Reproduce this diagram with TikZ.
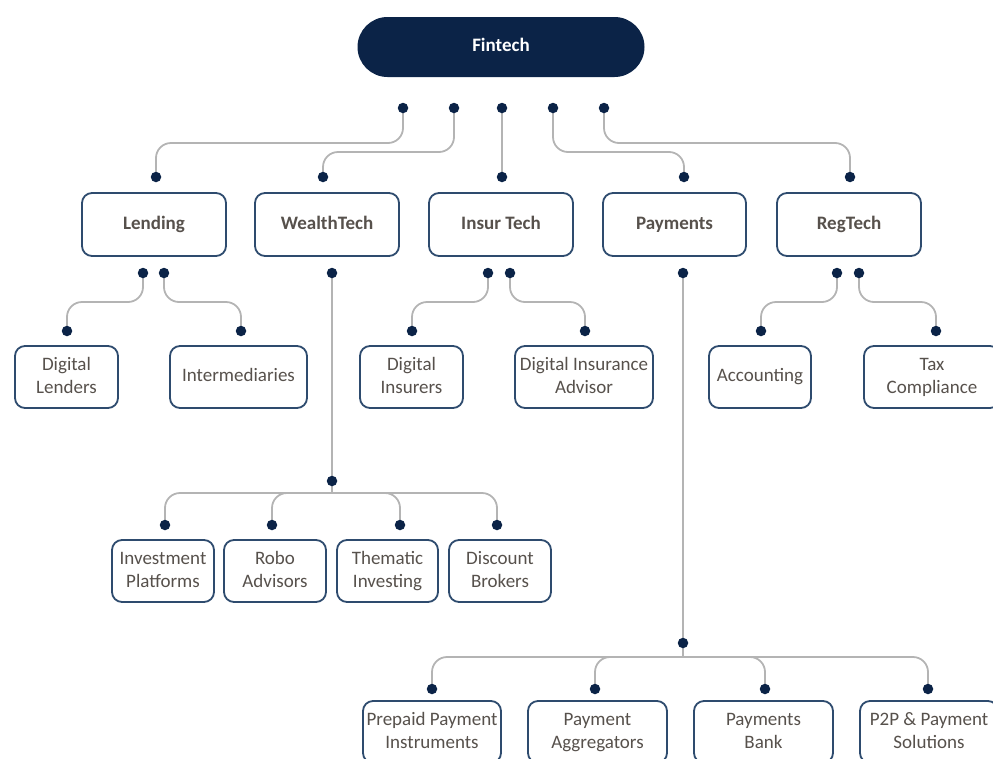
\documentclass[tikz,border=0pt]{standalone}
\usepackage{fontspec}
\setmainfont{Carlito}
\definecolor{navy}{HTML}{0B2347}
\definecolor{boxline}{HTML}{2E4B6E}
\definecolor{txt}{HTML}{57514C}
\definecolor{conn}{HTML}{B4B4B4}
\tikzset{
  hub/.style={draw=none, fill=navy, rounded corners=30pt, minimum width=287pt, minimum height=60pt, inner sep=0pt, text=white, font=\fontsize{19}{23}\selectfont\bfseries},
  catbox/.style={draw=boxline, line width=1.8pt, rounded corners=10pt, fill=white, minimum height=63pt, inner sep=0pt, text=txt, align=center, font=\fontsize{19}{23}\selectfont\bfseries},
  leafbox/.style={draw=boxline, line width=1.8pt, rounded corners=10pt, fill=white, minimum height=62pt, inner sep=0pt, text=txt, align=center, font=\fontsize{19}{23}\selectfont},
  dotnode/.style={circle, fill=navy, draw=none, minimum size=10.5pt, inner sep=0pt},
  link/.style={draw=conn, line width=1.8pt, rounded corners=15pt},
  linkstraight/.style={draw=conn, line width=1.8pt},
}
\begin{document}
\begin{tikzpicture}[x=1pt,y=-1pt]
\useasboundingbox (0,0) rectangle (993,758);
% main boxes
\node[hub] (fin) at (501,47) {\strut Fintech};
\node[catbox, minimum width=144pt] (lend) at (154,224.5) {\strut Lending};
\node[catbox, minimum width=144pt] (wealth) at (327,224.5) {\strut WealthTech};
\node[catbox, minimum width=144pt] (insur) at (501,224.5) {\strut Insur Tech};
\node[catbox, minimum width=143pt] (pay) at (674.5,224.5) {\strut Payments};
\node[catbox, minimum width=144pt] (reg) at (849,224.5) {\strut RegTech};
% leaves
\node[leafbox, minimum width=103pt] (dl) at (66.5,377) {\strut Digital\\\strut Lenders};
\node[leafbox, minimum width=137pt] (im) at (238.5,377) {\strut Intermediaries};
\node[leafbox, minimum width=103pt] (di) at (411.5,377) {\strut Digital\\\strut Insurers};
\node[leafbox, minimum width=138pt] (dia) at (584,377) {\strut Digital Insurance\\\strut Advisor};
\node[leafbox, minimum width=102pt] (acc) at (760,377) {\strut Accounting};
\node[leafbox, minimum width=136pt] (tax) at (932,377) {\strut Tax\\\strut Compliance};
\node[leafbox, minimum width=102pt] (ip) at (163,571) {\strut Investment\\\strut Platforms};
\node[leafbox, minimum width=102pt] (ra) at (275,571) {\strut Robo\\\strut Advisors};
\node[leafbox, minimum width=101pt] (ti) at (387.5,571) {\strut Thematic\\\strut Investing};
\node[leafbox, minimum width=102pt] (db) at (500,571) {\strut Discount\\\strut Brokers};
\node[leafbox, minimum width=138pt] (ppi) at (432,732) {\strut Prepaid Payment\\\strut Instruments};
\node[leafbox, minimum width=139pt] (pa) at (597.5,732) {\strut Payment\\\strut Aggregators};
\node[leafbox, minimum width=139pt] (pb) at (763.5,732) {\strut Payments\\\strut Bank};
\node[leafbox, minimum width=138pt] (p2p) at (929,732) {\strut P2P \& Payment\\\strut Solutions};
% dot coordinates
\coordinate (t1) at (403,108);
\coordinate (t2) at (454,108);
\coordinate (t3) at (502,108);
\coordinate (t4) at (553,108);
\coordinate (t5) at (604,108);
\coordinate (a1) at (156,177);
\coordinate (a2) at (323,177);
\coordinate (a3) at (502,177);
\coordinate (a4) at (684,177);
\coordinate (a5) at (850,177);
\coordinate (b1) at (143,273);
\coordinate (b2) at (164,273);
\coordinate (b3) at (332,273);
\coordinate (b4) at (488,273);
\coordinate (b5) at (510,273);
\coordinate (b6) at (683,273);
\coordinate (b7) at (837,273);
\coordinate (b8) at (859,273);
\coordinate (c1) at (67,331);
\coordinate (c2) at (241,331);
\coordinate (c3) at (412,331);
\coordinate (c4) at (585,331);
\coordinate (c5) at (761,331);
\coordinate (c6) at (936,331);
\coordinate (w0) at (332,481);
\coordinate (w1) at (165,525);
\coordinate (w2) at (272,525);
\coordinate (w3) at (400,525);
\coordinate (w4) at (497,525);
\coordinate (p0) at (683,643);
\coordinate (p1) at (432,689);
\coordinate (p2) at (595,689);
\coordinate (p3) at (765,689);
\coordinate (p4) at (928,689);
% level coordinates
\coordinate (h1) at (0,143);
\coordinate (h2) at (0,152);
\coordinate (h3) at (0,302);
\coordinate (h4) at (0,493);
\coordinate (h5) at (0,657);
% connectors top
\draw[link] (t1) -- (t1 |- h1) -| (a1);
\draw[link] (t2) -- (t2 |- h2) -| (a2);
\draw[linkstraight] (t3) -- (a3);
\draw[link] (t4) -- (t4 |- h2) -| (a4);
\draw[link] (t5) -- (t5 |- h1) -| (a5);
% second level
\draw[link] (b1) -- (b1 |- h3) -| (c1);
\draw[link] (b2) -- (b2 |- h3) -| (c2);
\draw[link] (b4) -- (b4 |- h3) -| (c3);
\draw[link] (b5) -- (b5 |- h3) -| (c4);
\draw[link] (b7) -- (b7 |- h3) -| (c5);
\draw[link] (b8) -- (b8 |- h3) -| (c6);
% wealth
\draw[linkstraight] (b3) -- (w0) -- (w0 |- h4);
\draw[link] (w0 |- h4) -| (w1);
\draw[link] (w0 |- h4) -| (w2);
\draw[link] (w0 |- h4) -| (w3);
\draw[link] (w0 |- h4) -| (w4);
% payments
\draw[linkstraight] (b6) -- (p0) -- (p0 |- h5);
\draw[link] (p0 |- h5) -| (p1);
\draw[link] (p0 |- h5) -| (p2);
\draw[link] (p0 |- h5) -| (p3);
\draw[link] (p0 |- h5) -| (p4);
% dots
\foreach \d in {t1,t2,t3,t4,t5,a1,a2,a3,a4,a5,b1,b2,b3,b4,b5,b6,b7,b8,c1,c2,c3,c4,c5,c6,w0,w1,w2,w3,w4,p0,p1,p2,p3,p4}
  \node[dotnode] (d\d) at (\d) {};
\end{tikzpicture}
\end{document}
